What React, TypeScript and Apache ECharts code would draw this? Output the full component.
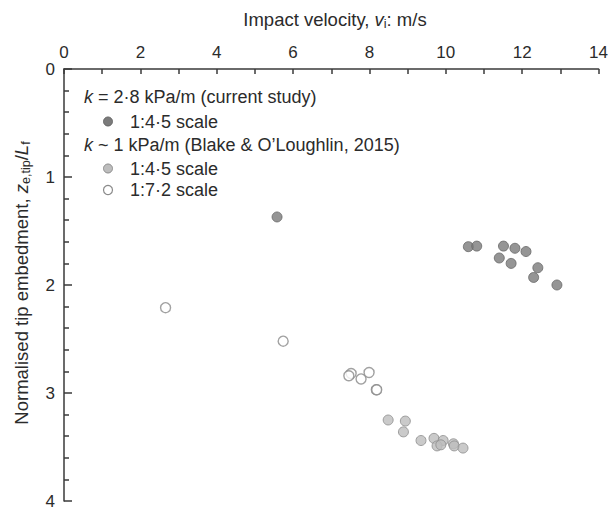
import React, { useEffect, useRef } from "react";
import * as echarts from "echarts";

// Impact velocity (m/s) vs normalised tip embedment z_e,tip / L_f
const currentStudy45: [number, number][] = [
  [5.58, 1.37],
  [10.59, 1.645],
  [10.81, 1.64],
  [11.51, 1.64],
  [11.81, 1.66],
  [12.1, 1.69],
  [11.4, 1.75],
  [11.71, 1.8],
  [12.41, 1.84],
  [12.3, 1.93],
  [12.91, 2.0],
];

const blake45: [number, number][] = [
  [8.49, 3.25],
  [8.94, 3.26],
  [8.89, 3.36],
  [9.35, 3.44],
  [9.69, 3.42],
  [9.93, 3.44],
  [9.77, 3.49],
  [9.87, 3.48],
  [10.2, 3.47],
  [10.22, 3.49],
  [10.45, 3.51],
];

const blake72: [number, number][] = [
  [2.66, 2.21],
  [5.74, 2.52],
  [7.52, 2.82],
  [7.46, 2.84],
  [7.78, 2.87],
  [7.99, 2.81],
  [8.18, 2.97],
  [8.19, 2.97],
];

const xRange = { min: 0, max: 14, interval: 2 };
const yRange = { min: 0, max: 4, interval: 1 };

const FONT = "Liberation Sans, Arial, Helvetica, sans-serif";
const TEXT = "#2b2b2b";
const AXIS = "#3a3a3a";

const darkFill = "#7b7b7b";
const darkBorder = "#666666";
const lightFill = "#bdbdbd";
const lightBorder = "#8c8c8c";
const openBorder = "#8a8a8a";

export default function App() {
  const ref = useRef<HTMLDivElement>(null);

  useEffect(() => {
    const chart = echarts.init(ref.current!, null, { renderer: "svg" });

    const legendX = 84;
    const markerX = 108;
    const itemTextX = 130;
    const tickFs = 17;
    const keyFs = 18;
    const titleFs = 18.5;

    const titleRich = (size: number) => ({
      n: { fontSize: size, fontFamily: FONT, fill: TEXT, lineHeight: 22 },
      i: { fontSize: size, fontFamily: FONT, fontStyle: "italic", fill: TEXT, lineHeight: 22 },
      s: { fontSize: size * 0.68, fontFamily: FONT, fill: TEXT, lineHeight: 22, padding: [9, 0, 0, 0] },
    });

    const keyRich = {
      n: { fontSize: keyFs, fontFamily: FONT, fill: TEXT },
      i: { fontSize: keyFs, fontFamily: FONT, fontStyle: "italic", fill: TEXT },
    };

    chart.setOption({
      animation: false,
      backgroundColor: "#ffffff",
      textStyle: { fontFamily: FONT },
      grid: { left: 64, top: 69, width: 539, height: 432 },
      xAxis: {
        type: "value",
        position: "top",
        min: xRange.min,
        max: xRange.max,
        interval: xRange.interval,
        axisLine: { show: true, lineStyle: { color: AXIS, width: 1.5 } },
        axisTick: { show: true, inside: true, length: 5, lineStyle: { color: AXIS, width: 1.5 } },
        minorTick: { show: true, splitNumber: 2, length: 5, lineStyle: { color: AXIS, width: 1.5 } },
        axisLabel: { color: TEXT, fontSize: tickFs, fontFamily: FONT, margin: 8 },
        splitLine: { show: false },
      },
      yAxis: {
        type: "value",
        inverse: true,
        min: yRange.min,
        max: yRange.max,
        interval: yRange.interval,
        axisLine: { show: true, lineStyle: { color: AXIS, width: 1.5 } },
        axisTick: { show: true, inside: true, length: 8, lineStyle: { color: AXIS, width: 1.5 } },
        minorTick: { show: true, splitNumber: 5, length: 5, lineStyle: { color: AXIS, width: 1.5 } },
        axisLabel: { color: TEXT, fontSize: tickFs, fontFamily: FONT, margin: 9 },
        splitLine: { show: false },
      },
      series: [
        {
          name: "1:7·2 scale (Blake & O'Loughlin)",
          type: "scatter",
          data: blake72,
          symbolSize: 10,
          itemStyle: { color: "#ffffff", borderColor: openBorder, borderWidth: 1.4 },
        },
        {
          name: "1:4·5 scale (Blake & O'Loughlin)",
          type: "scatter",
          data: blake45,
          symbolSize: 10,
          itemStyle: { color: lightFill, borderColor: lightBorder, borderWidth: 1 },
        },
        {
          name: "1:4·5 scale (current study)",
          type: "scatter",
          data: currentStudy45,
          symbolSize: 10,
          itemStyle: { color: darkFill, borderColor: darkBorder, borderWidth: 1 },
        },
      ],
      graphic: [
        // axis titles
        {
          type: "text",
          x: 335,
          y: 19,
          style: {
            text: "{n|Impact velocity, }{i|v}{s|i}{n|: m/s}",
            align: "center",
            verticalAlign: "middle",
            fill: TEXT,
            rich: titleRich(titleFs),
          },
        },
        {
          type: "text",
          x: 21,
          y: 283,
          rotation: Math.PI / 2,
          style: {
            text: "{n|Normalised tip embedment, }{i|z}{s|e,tip}{n|/}{i|L}{s|f}",
            align: "center",
            verticalAlign: "middle",
            fill: TEXT,
            rich: titleRich(titleFs),
          },
        },
        // key
        {
          type: "text",
          x: legendX,
          y: 97,
          style: {
            text: "{i|k}{n| = 2·8 kPa/m (current study)}",
            verticalAlign: "middle",
            rich: keyRich,
          },
        },
        {
          type: "circle",
          shape: { cx: markerX, cy: 121.5, r: 4.5 },
          style: { fill: darkFill, stroke: darkBorder, lineWidth: 1 },
        },
        {
          type: "text",
          x: itemTextX,
          y: 121.5,
          style: { text: "1:4·5 scale", fontSize: keyFs, fontFamily: FONT, fill: TEXT, verticalAlign: "middle" },
        },
        {
          type: "text",
          x: legendX,
          y: 145,
          style: {
            text: "{i|k}{n| ~ 1 kPa/m (Blake & O’Loughlin, 2015)}",
            verticalAlign: "middle",
            rich: keyRich,
          },
        },
        {
          type: "circle",
          shape: { cx: markerX, cy: 168.5, r: 4.5 },
          style: { fill: lightFill, stroke: lightBorder, lineWidth: 1 },
        },
        {
          type: "text",
          x: itemTextX,
          y: 168.5,
          style: { text: "1:4·5 scale", fontSize: keyFs, fontFamily: FONT, fill: TEXT, verticalAlign: "middle" },
        },
        {
          type: "circle",
          shape: { cx: markerX, cy: 190, r: 4.5 },
          style: { fill: "#ffffff", stroke: openBorder, lineWidth: 1.2 },
        },
        {
          type: "text",
          x: itemTextX,
          y: 190,
          style: { text: "1:7·2 scale", fontSize: keyFs, fontFamily: FONT, fill: TEXT, verticalAlign: "middle" },
        },
      ],
    });

    return () => chart.dispose();
  }, []);

  return (
    <div
      ref={ref}
      style={{ position: "fixed", left: 0, top: 0, width: 611, height: 510, background: "#fff" }}
    />
  );
}
